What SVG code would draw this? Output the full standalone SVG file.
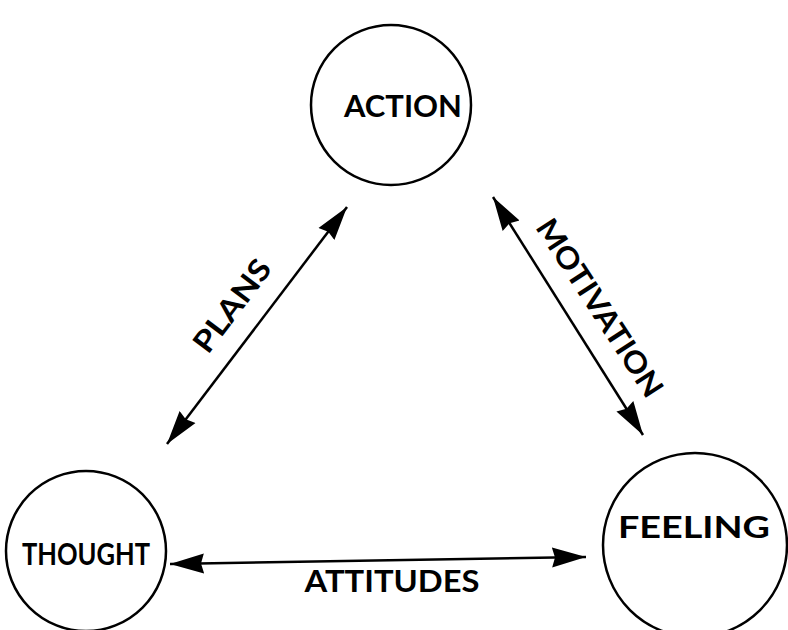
<svg xmlns="http://www.w3.org/2000/svg" width="788" height="630" viewBox="0 0 788 630">
<style>
.node{fill:#fff;stroke:#000;stroke-width:2.5}
.lbl{font-family:"Lato","DejaVu Sans",sans-serif;font-weight:700;font-size:30px;fill:#000;text-anchor:middle;dominant-baseline:central}
.edge{stroke:#000;stroke-width:2.5;fill:none;marker-start:url(#ah);marker-end:url(#ah)}
</style>
<defs>
<marker id="ah" markerUnits="userSpaceOnUse" markerWidth="36" markerHeight="24" viewBox="0 0 36 24" refX="34" refY="12" orient="auto-start-reverse">
<path d="M0,2 L34,12 L0,22 L3,12 Z" fill="#000"/>
</marker>
</defs>
<rect width="788" height="630" fill="#fff"/>
<g id="action"><circle class="node" cx="391" cy="105" r="80"/><text class="lbl" x="403" y="105" textLength="118" lengthAdjust="spacingAndGlyphs">ACTION</text></g>
<g id="thought"><circle class="node" cx="86" cy="551" r="80"/><text class="lbl" x="86" y="553" font-size="27" textLength="128" lengthAdjust="spacingAndGlyphs">THOUGHT</text></g>
<g id="feeling"><circle class="node" cx="695" cy="545" r="92"/><text class="lbl" x="694" y="526" textLength="152" lengthAdjust="spacingAndGlyphs">FEELING</text></g>
<g id="connectors">
<line class="edge" x1="167" y1="444" x2="347" y2="207"/>
<line class="edge" x1="493" y1="197" x2="643" y2="435"/>
<line class="edge" x1="170" y1="564" x2="586" y2="557"/>
</g>
<g id="labels">
<text class="lbl" font-size="26" transform="translate(231,305) rotate(-53)" textLength="108" lengthAdjust="spacingAndGlyphs">PLANS</text>
<text class="lbl" font-size="26" transform="translate(601,307) rotate(57)" textLength="206" lengthAdjust="spacingAndGlyphs">MOTIVATION</text>
<text class="lbl" font-size="28" x="392" y="580" textLength="175" lengthAdjust="spacingAndGlyphs">ATTITUDES</text>
</g>
</svg>
